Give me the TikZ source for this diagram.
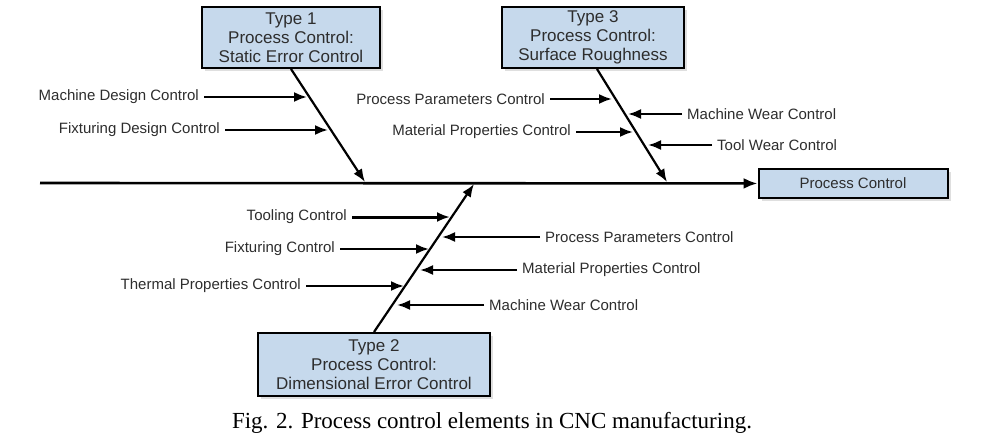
\documentclass[tikz,border=0pt]{standalone}
\usepackage{fontspec}
\setmainfont{Liberation Sans}
\newfontfamily\capfont{Liberation Serif}
\usetikzlibrary{arrows.meta,shadows}

\definecolor{boxblue}{RGB}{198,217,236}
\definecolor{labelgray}{RGB}{45,45,45}

\tikzset{
  typebox/.style = {shape = rectangle, draw = black, line width = 2pt, fill = boxblue,
                    align = center, text = labelgray, font = \fontsize{17}{19}\selectfont,
                    drop shadow = {shadow xshift = 3pt, shadow yshift = -3pt, opacity = 0.25}},
  endbox/.style  = {typebox, font = \fontsize{15}{18}\selectfont},
  factor/.style  = {text = labelgray, font = \fontsize{15}{18}\selectfont, inner sep = 5pt},
  spine/.style   = {line width = 2.6pt, -{Latex[length = 14pt, width = 11pt]}},
  bone/.style    = {line width = 2.2pt, -{Latex[length = 13pt, width = 10pt]}},
  cause/.style   = {line width = 2.2pt, -{Latex[length = 13pt, width = 10pt]}},
}

\begin{document}
\begin{tikzpicture}[x = 1pt, y = -1pt]
        \useasboundingbox (0, 0) rectangle (983, 444);

        % ------------------------------------------------------------------------
        % Spine
        \node[endbox, minimum width = 189pt, minimum height = 29pt] at (853, 183.5) (pc) {Process Control};

        \coordinate (tail) at (40, 183);

        \draw
          (tail) edge[spine] (pc)
        ;

        % ------------------------------------------------------------------------
        % Type 1
        \node[typebox, minimum width = 178pt, minimum height = 61pt] at (291, 37.5) (t1)
          {Type 1\\Process Control:\\Static Error Control};

        \coordinate (j1) at (365, 182);
        \coordinate (m1) at (307, 97);
        \coordinate (f1) at (328, 130);

        \node[factor, anchor = east] at (204, 97)  (mdc) {Machine Design Control};
        \node[factor, anchor = east] at (225, 130) (fdc) {Fixturing Design Control};

        \draw
          (t1.south) edge[bone] (j1)
        ;
        \draw
          (mdc) edge[cause] (m1)
          (fdc) edge[cause] (f1)
        ;

        % ------------------------------------------------------------------------
        % Type 3
        \node[typebox, minimum width = 182pt, minimum height = 61pt] at (593, 37.5) (t3)
          {Type 3\\Process Control:\\Surface Roughness};

        \coordinate (j3) at (667, 182);
        \coordinate (p3) at (612, 99);
        \coordinate (w3) at (628, 114);
        \coordinate (m3) at (633, 132);
        \coordinate (o3) at (648, 145);

        \node[factor, anchor = east] at (550, 99)  (ppc) {Process Parameters Control};
        \node[factor, anchor = west] at (682, 114) (mwc) {Machine Wear Control};
        \node[factor, anchor = east] at (576, 132) (mpc) {Material Properties Control};
        \node[factor, anchor = west] at (712, 145) (twc) {Tool Wear Control};

        \draw
          ([xshift = 4pt]t3.south) edge[bone] (j3)
        ;
        \draw
          (ppc) edge[cause] (p3)
          (mwc) edge[cause] (w3)
          (mpc) edge[cause] (m3)
          (twc) edge[cause] (o3)
        ;

        % ------------------------------------------------------------------------
        % Type 2
        \node[typebox, minimum width = 232pt, minimum height = 63pt] at (374, 364.5) (t2)
          {Type 2\\Process Control:\\Dimensional Error Control};

        \coordinate (j2) at (474, 184);
        \coordinate (l2) at (450, 217);
        \coordinate (p2) at (442, 237);
        \coordinate (f2) at (429, 249);
        \coordinate (m2) at (420, 270);
        \coordinate (h2) at (404, 286);
        \coordinate (w2) at (397, 305);

        \node[factor, anchor = east] at (352, 217) (tlc)  {Tooling Control};
        \node[factor, anchor = west] at (540, 237) (ppc2) {Process Parameters Control};
        \node[factor, anchor = east] at (340, 249) (fxc)  {Fixturing Control};
        \node[factor, anchor = west] at (517, 270) (mpc2) {Material Properties Control};
        \node[factor, anchor = east] at (306, 286) (tpc)  {Thermal Properties Control};
        \node[factor, anchor = west] at (484, 305) (mwc2) {Machine Wear Control};

        \draw
          (t2.north) edge[bone] (j2)
        ;
        \draw
          (tlc)  edge[cause, line width = 3pt] (l2)
          (ppc2) edge[cause] (p2)
          (fxc)  edge[cause] (f2)
          (mpc2) edge[cause] (m2)
          (tpc)  edge[cause] (h2)
          (mwc2) edge[cause] (w2)
        ;

        % ------------------------------------------------------------------------
        % Caption
        \node[font = \capfont\fontsize{23}{27}\selectfont] at (492, 423) (cap)
          {Fig. 2. Process control elements in CNC manufacturing.};
      \end{tikzpicture}
\end{document}
